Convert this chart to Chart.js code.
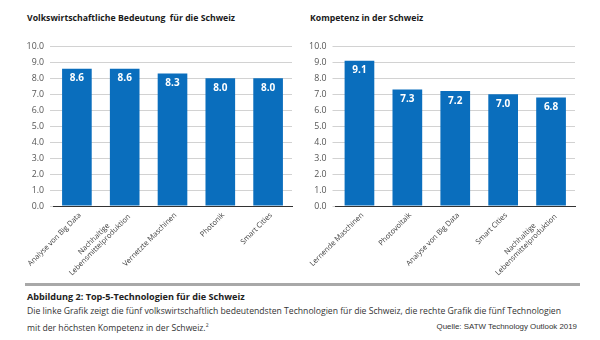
<!DOCTYPE html>
<html>
<head>
<meta charset="utf-8">
<script src="https://cdn.jsdelivr.net/npm/chart.js@4.4.1/dist/chart.umd.min.js"></script>
<style>
  html, body { margin: 0; padding: 0; background: #fff; }
  body { width: 600px; height: 340px; position: relative; overflow: hidden; font-family: "Open Sans", sans-serif; }
  .title { position: absolute; top: 12px; font-weight: bold; font-size: 8.7px; color: #1a1a1a; white-space: nowrap; }
  canvas { position: absolute; top: 35px; }
  #rule { position: absolute; left: 25px; top: 283px; width: 555px; height: 3px; background: #a8a8a8; }
  .cap { position: absolute; left: 27px; white-space: nowrap; color: #222; }
  #capTitle { top: 290px; font-size: 9.1px; font-weight: bold; }
  #capText { top: 304px; font-size: 8.65px; line-height: 14px; color: #333; }
  #source { position: absolute; right: 23px; top: 322px; font-family: "Liberation Sans", sans-serif; font-size: 7.9px; color: #333; }
  sup { font-size: 5px; }
</style>
</head>
<body>
<div class="title" style="left:27px">Volkswirtschaftliche Bedeutung&nbsp; für die Schweiz</div>
<div class="title" style="left:310px">Kompetenz in der Schweiz</div>
<canvas id="left-chart" width="300" height="245" style="left:0"></canvas>
<canvas id="right-chart" width="300" height="245" style="left:300px"></canvas>
<div id="rule"></div>
<div class="cap" id="capTitle">Abbildung 2: Top-5-Technologien für die Schweiz</div>
<div class="cap" id="capText">Die linke Grafik zeigt die fünf volkswirtschaftlich bedeutendsten Technologien für die Schweiz, die rechte Grafik die fünf Technologien<br>mit der höchsten Kompetenz in der Schweiz.<sup>2</sup></div>
<div id="source">Quelle: SATW Technology Outlook 2019</div>
<script>
// Volkswirtschaftliche Bedeutung (links)
let leftLabels = ['Analyse von Big Data', ['Nachhaltige', 'Lebensmittelproduktion'], 'Vernetzte Maschinen', 'Photonik', 'Smart Cities'];
let leftValues = [8.6, 8.6, 8.3, 8.0, 8.0];

// Kompetenz (rechts)
let rightLabels = ['Lernende Maschinen', 'Photovoltaik', 'Analyse von Big Data', 'Smart Cities', ['Nachhaltige', 'Lebensmittelproduktion']];
let rightValues = [9.1, 7.3, 7.2, 7.0, 6.8];

let yMin = 0;
let yMax = 10;
let yStep = 1;

let barColor = '#0a6ebd';

// white value inside the top of every bar
const valueLabels = {
  id: 'valueLabels',
  afterDatasetsDraw(chart) {
    let ctx = chart.ctx;
    let meta = chart.getDatasetMeta(0);
    ctx.save();
    ctx.fillStyle = '#fff';
    ctx.font = 'bold 10px "Open Sans"';
    ctx.textAlign = 'center';
    ctx.textBaseline = 'middle';
    meta.data.forEach((bar, i) => {
      ctx.fillText(chart.data.datasets[0].data[i].toFixed(1), bar.x, bar.y + 10);
    });
    ctx.restore();
  }
};

// rotated category labels, multi-line ones centred on each other
const slantLabels = {
  id: 'slantLabels',
  afterDraw(chart) {
    let ctx = chart.ctx;
    let xs = chart.scales.x;
    ctx.save();
    ctx.fillStyle = '#3c3c3c';
    ctx.font = '7.4px "Open Sans"';
    ctx.textAlign = 'center';
    ctx.textBaseline = 'middle';
    chart.data.labels.forEach((lab, i) => {
      let lines = Array.isArray(lab) ? lab : [lab];
      let maxW = Math.max(...lines.map((l) => ctx.measureText(l).width));
      ctx.save();
      ctx.translate(xs.getPixelForTick(i) + 3, xs.top + 8);
      ctx.rotate(-Math.PI / 4);
      lines.forEach((l, j) => {
        ctx.fillText(l, -maxW / 2, (j - (lines.length - 1) / 2) * 8.5 - (lines.length - 1) * 2);
      });
      ctx.restore();
    });
    ctx.restore();
  }
};

let renderChart = (id, labelArr, dataArr, axisWidth, padRight) => {
  new Chart(document.getElementById(id), {
    type: 'bar',
    data: {
      labels: labelArr,
      datasets: [{
        data: dataArr,
        backgroundColor: barColor,
        categoryPercentage: 1,
        barPercentage: 0.62,
      }],
    },
    options: {
      responsive: false,
      animation: false,
      layout: { padding: { top: 2, right: padRight, left: 0, bottom: 0 } },
      plugins: { legend: { display: false }, tooltip: { enabled: false } },
      scales: {
        y: {
          min: yMin,
          max: yMax,
          ticks: {
            stepSize: yStep,
            padding: 6,
            color: '#555',
            font: { family: 'Open Sans', size: 8.8 },
            callback: (v) => v.toFixed(1),
          },
          grid: { color: '#d2d2d2', drawTicks: true, tickLength: 3 },
          border: { display: false },
          afterFit: (s) => { s.width = axisWidth; },
        },
        x: {
          ticks: { display: false },
          grid: { display: false },
          border: { display: true, color: '#333', width: 1 },
          afterFit: (s) => { s.height = 74; },
        },
      },
    },
    plugins: [valueLabels, slantLabels],
  });
};

renderChart('left-chart', leftLabels, leftValues, 53, 8);
renderChart('right-chart', rightLabels, rightValues, 35.5, 25);
</script>
</body>
</html>
